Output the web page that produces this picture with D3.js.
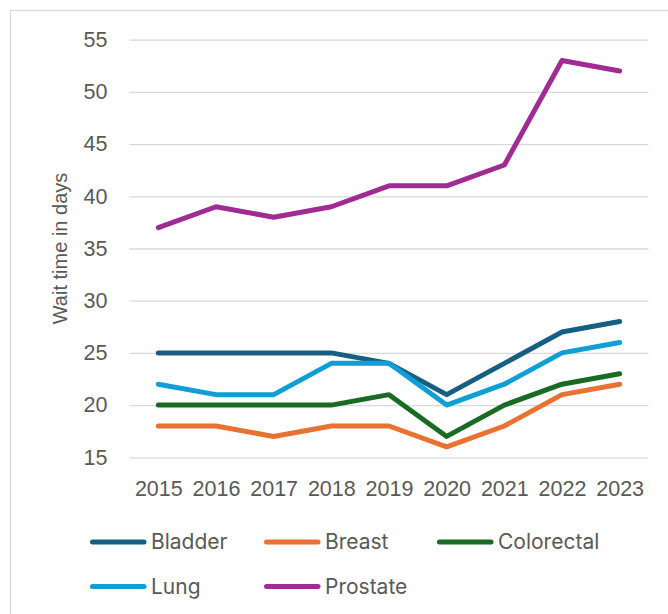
<!DOCTYPE html>
<html>
<head>
<meta charset="utf-8">
<script src="https://cdn.jsdelivr.net/npm/d3@7/dist/d3.min.js"></script>
<style>
  html, body { margin: 0; padding: 0; background: #fff; }
  svg { display: block; }
</style>
</head>
<body>
<svg id="chart" width="668" height="614"></svg>
<script>
// Median wait time (days) by cancer type, 2015–2023
const years = ["2015", "2016", "2017", "2018", "2019", "2020", "2021", "2022", "2023"];
const yTicks = [15, 20, 25, 30, 35, 40, 45, 50, 55];

const seriesNames = ["Bladder", "Breast", "Colorectal", "Lung", "Prostate"];
const bladder    = [25, 25, 25, 25, 24, 21, 24, 27, 28];
const breast     = [18, 18, 17, 18, 18, 16, 18, 21, 22];
const colorectal = [20, 20, 20, 20, 21, 17, 20, 22, 23];
const lung       = [22, 21, 21, 24, 24, 20, 22, 25, 26];
const prostate   = [37, 39, 38, 39, 41, 41, 43, 53, 52];

const colors = ["#156082", "#E97132", "#196B24", "#0F9ED5", "#A02B93"];
const seriesValues = [bladder, breast, colorectal, lung, prostate];

const series = seriesNames.map((name, i) => ({
  name,
  color: colors[i],
  values: seriesValues[i].map((v, j) => ({ year: years[j], value: v }))
}));

const svg = d3.select("#chart");
const axisFont = "'Liberation Sans', Arial, sans-serif";
const legendFont = "Inter, 'Open Sans', sans-serif";
const textColor = "#595959";

// chart frame
svg.append("rect")
  .attr("x", 10.5).attr("y", 10.5)
  .attr("width", 720).attr("height", 720)
  .attr("fill", "none")
  .attr("stroke", "#d9d9d9")
  .attr("stroke-width", 1.3);

const plot = { left: 129.5, right: 648.5, top: 39.7, bottom: 457.3 };

const x = d3.scalePoint()
  .domain(years)
  .range([plot.left, plot.right])
  .padding(0.5);

const y = d3.scaleLinear()
  .domain([15, 55])
  .range([plot.bottom, plot.top]);

// horizontal gridlines + y labels
const yAxis = d3.axisLeft(y)
  .tickValues(yTicks)
  .tickSize(-(plot.right - plot.left))
  .tickPadding(22);

const yg = svg.append("g")
  .attr("transform", `translate(${plot.left},0)`)
  .call(yAxis);
yg.select(".domain").remove();
yg.selectAll(".tick line")
  .attr("stroke", "#d9d9d9")
  .attr("stroke-width", 1.3);
yg.selectAll(".tick text")
  .attr("fill", textColor)
  .style("font-family", axisFont)
  .style("font-size", "21.5px");

// x labels
const xAxis = d3.axisBottom(x).tickSize(0).tickPadding(0);
const xg = svg.append("g")
  .attr("transform", `translate(0,${plot.bottom})`)
  .call(xAxis);
xg.select(".domain").remove();
xg.selectAll(".tick text")
  .attr("fill", textColor)
  .attr("dy", null)
  .attr("y", 38.5)
  .style("font-family", axisFont)
  .style("font-size", "21.5px");

// y-axis title
svg.append("text")
  .attr("transform", `translate(67,${(plot.top + plot.bottom) / 2}) rotate(-90)`)
  .attr("text-anchor", "middle")
  .attr("fill", textColor)
  .style("font-family", axisFont)
  .style("font-size", "20px")
  .text("Wait time in days");

// lines
const line = d3.line()
  .x(d => x(d.year))
  .y(d => y(d.value));

svg.append("g")
  .selectAll("path")
  .data(series)
  .join("path")
  .attr("d", d => line(d.values))
  .attr("fill", "none")
  .attr("stroke", d => d.color)
  .attr("stroke-width", 5)
  .attr("stroke-linecap", "round")
  .attr("stroke-linejoin", "round");

// legend
const legendCols = [90, 264, 437];
const legendRows = [542, 586.5];
const legend = svg.append("g")
  .selectAll("g")
  .data(series)
  .join("g")
  .attr("transform", (d, i) => `translate(${legendCols[i % 3]},${legendRows[Math.floor(i / 3)]})`);

legend.append("line")
  .attr("x1", 2.5).attr("x2", 54)
  .attr("y1", 0).attr("y2", 0)
  .attr("stroke", d => d.color)
  .attr("stroke-width", 5)
  .attr("stroke-linecap", "round");

legend.append("text")
  .attr("x", 61)
  .attr("y", 7)
  .attr("fill", textColor)
  .style("font-family", legendFont)
  .style("font-size", "21px")
  .text(d => d.name);
</script>
</body>
</html>
